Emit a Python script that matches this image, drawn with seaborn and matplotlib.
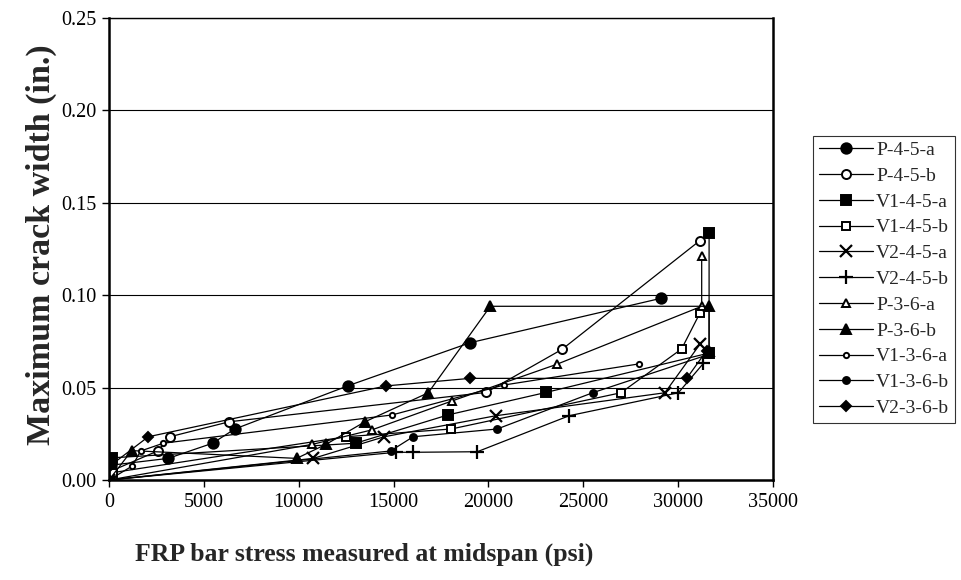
import matplotlib
matplotlib.use("Agg")
import matplotlib.pyplot as plt
import seaborn as sns
import pandas as pd

# readings: FRP bar stress (psi) and max crack width (in.)
p45a_x = [0, 100, 3120, 5460, 6630, 12600, 19040, 29090]
p45a_y = [0, 0.008, 0.0117, 0.0199, 0.0276, 0.0510, 0.0743, 0.0983]

p45b_x = [0, 150, 2560, 3210, 6330, 19880, 23880, 31140]
p45b_y = [0, 0.005, 0.0157, 0.0234, 0.0315, 0.0474, 0.0707, 0.1295]

v1_45a_x = [0, 150, 13000, 17860, 23040, 31630, 31630]
v1_45a_y = [0, 0.012, 0.0199, 0.0352, 0.0474, 0.0687, 0.1338]

v1_45b_x = [0, 200, 12480, 18040, 26980, 30180, 31140]
v1_45b_y = [0, 0.004, 0.0234, 0.0276, 0.0472, 0.0709, 0.0902]

v2_45a_x = [0, 10770, 14510, 20400, 29300, 31150]
v2_45a_y = [0, 0.0117, 0.0234, 0.0348, 0.0472, 0.0735]

v2_45b_x = [0, 15110, 16040, 19410, 24260, 30010, 31330]
v2_45b_y = [0, 0.0150, 0.0150, 0.0153, 0.0348, 0.0472, 0.0631]

p36a_x = [0, 10720, 13850, 18060, 23600, 31240, 31240]
p36a_y = [0, 0.0193, 0.0271, 0.0427, 0.0626, 0.0940, 0.1213]

p36b_x = [0, 1200, 9890, 11440, 13490, 16830, 20100, 31630, 31630]
p36b_y = [0, 0.0159, 0.0117, 0.0193, 0.0315, 0.0472, 0.0940, 0.0940, 0.0700]

v1_36a_x = [0, 1230, 1670, 2860, 14920, 20820, 27920]
v1_36a_y = [0, 0.0076, 0.0157, 0.0199, 0.0352, 0.0514, 0.0628]

v1_36b_x = [0, 14840, 16030, 20460, 25490, 31630]
v1_36b_y = [0, 0.0157, 0.0234, 0.0276, 0.0472, 0.0680]

v2_36b_x = [0, 100, 2070, 14600, 19030, 30450, 31500]
v2_36b_y = [0, 0.008, 0.0234, 0.0509, 0.0550, 0.0550, 0.0700]

labels = ["P-4-5-a", "P-4-5-b", "V1-4-5-a", "V1-4-5-b", "V2-4-5-a", "V2-4-5-b",
          "P-3-6-a", "P-3-6-b", "V1-3-6-a", "V1-3-6-b", "V2-3-6-b"]
xs = [p45a_x, p45b_x, v1_45a_x, v1_45b_x, v2_45a_x, v2_45b_x,
      p36a_x, p36b_x, v1_36a_x, v1_36b_x, v2_36b_x]
ys = [p45a_y, p45b_y, v1_45a_y, v1_45b_y, v2_45a_y, v2_45b_y,
      p36a_y, p36b_y, v1_36a_y, v1_36b_y, v2_36b_y]

# marker, filled?, size
styles = [("o", True, 7.5), ("o", False, 6.5), ("s", True, 6.5), ("s", False, 5.5),
          ("x", True, 9), ("+", True, 10), ("^", False, 6), ("^", True, 7),
          ("o", False, 3.8), ("o", True, 5), ("D", True, 5.5)]

sns.set_theme(style="white")
plt.rcParams["font.family"] = ["Liberation Serif", "DejaVu Serif"]

fig = plt.figure(figsize=(9.61, 5.80), dpi=100)
ax = fig.add_axes([0.1134, 0.1724, 0.6910, 0.7966])

for lab, x, y, (m, filled, ms) in zip(labels, xs, ys, styles):
    df = pd.DataFrame({"x": x, "y": y})
    sns.lineplot(data=df, x="x", y="y", sort=False, estimator=None, ax=ax,
                 color="black", linewidth=0.9, marker=m, markersize=ms,
                 markerfacecolor="black" if filled else "white",
                 markeredgecolor="black", markeredgewidth=1.6 if m in "x+" else 1.4,
                 label=lab)

ax.set_xlim(0, 35000)
ax.set_ylim(0, 0.25)
ax.set_xticks(range(0, 35001, 5000))
ax.set_yticks([0, 0.05, 0.10, 0.15, 0.20, 0.25])
ax.set_yticklabels([f"{v:.2f}" for v in [0, 0.05, 0.10, 0.15, 0.20, 0.25]])
ax.tick_params(axis="both", labelsize=14.5, colors="black", direction="out",
               length=5, width=1, bottom=True, left=True, pad=4)
ax.yaxis.grid(True, color="black", linewidth=0.8)
ax.xaxis.grid(False)
for side in ["left", "bottom", "right"]:
    ax.spines[side].set_linewidth(1.8)
    ax.spines[side].set_color("black")
ax.spines["top"].set_linewidth(1.0)
ax.spines["top"].set_color("black")
ax.set_xlabel("")
ax.set_ylabel("")

fig.text(0.379, 0.045, "FRP bar stress measured at midspan (psi)", ha="center",
         va="center", fontsize=18.5, fontweight="bold")
fig.text(0.043, 0.578, "Maximum crack width (in.)", ha="center", va="center",
         rotation=90, fontsize=24.5, fontweight="bold")

leg = ax.legend(loc="upper left", bbox_to_anchor=(0.846, 0.766),
                bbox_transform=fig.transFigure, fontsize=14, frameon=True,
                fancybox=False, edgecolor="black", handlelength=2.8,
                handletextpad=0.15, labelspacing=0.42, borderpad=0.3,
                borderaxespad=0)
leg.get_frame().set_linewidth(0.8)

fig.savefig("out.png", dpi=100, facecolor="white")
